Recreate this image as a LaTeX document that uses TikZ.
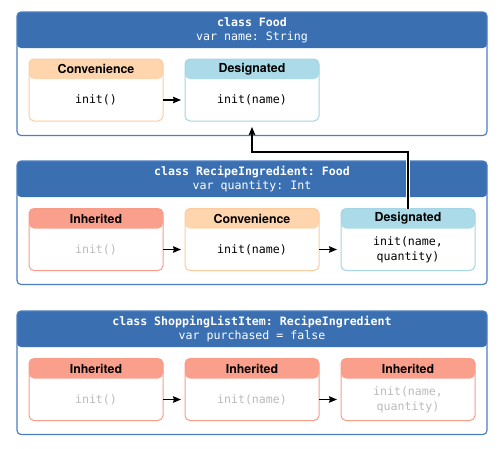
\documentclass[tikz,border=0pt]{standalone}
\usepackage{fontspec}
\setmainfont{TeX Gyre Heros}
\setmonofont{DejaVu Sans Mono}
\usetikzlibrary{arrows.meta}
\definecolor{classblue}{HTML}{3A6FB1}
\definecolor{frameblue}{HTML}{4C7EC2}
\definecolor{convfill}{HTML}{FED5AD}
\definecolor{convline}{HTML}{FCCB9E}
\definecolor{desfill}{HTML}{ABDBE8}
\definecolor{desline}{HTML}{A3D5E4}
\definecolor{inhfill}{HTML}{FA9F8C}
\definecolor{inhline}{HTML}{F89C88}
\colorlet{greytext}{black!27}

\begin{document}
\begin{tikzpicture}[x=1pt,y=-1pt]
\tikzset{
  classframe/.style={draw=frameblue, line width=1.2pt, rounded corners=4pt,
    inner sep=0, outer sep=0, minimum width=470pt, minimum height=123.5pt,
    path picture={\fill[classblue] (path picture bounding box.north west)
      rectangle ([yshift=-36pt]path picture bounding box.north east);}},
  classtitle/.style={text=white, align=center,
    font=\ttfamily\fontsize{11.6}{14}\selectfont},
  initbox/.style={draw=#1line, line width=1pt, rounded corners=5pt,
    inner sep=0, outer sep=0, minimum width=134pt, minimum height=62pt,
    path picture={\fill[#1fill] (path picture bounding box.north west)
      rectangle ([yshift=-20pt]path picture bounding box.north east);}},
  hdr/.style={anchor=center, yshift=-10pt, font=\bfseries\fontsize{12.4}{14}\selectfont},
  code/.style={anchor=center, yshift=-10pt, align=center,
    font=\ttfamily\fontsize{11.6}{15}\selectfont},
  callarrow/.style={line width=1.3pt, -{Stealth[length=8pt,width=6.5pt,inset=1pt]}}
}
\useasboundingbox (0,0) rectangle (504,448);

\node[classframe] (food) at (252,73.75) {};
\node[classtitle] (foodtitle) at ([yshift=-18pt]food.north) {{\bfseries class Food}\\var name: String};
\node[initbox=conv, label={[hdr]north:Convenience}, label={[code]center:init()}] (food1) at (96,90) {};
\node[initbox=des, label={[hdr]north:Designated}, label={[code]center:init(name)}] (food2) at (252,90) {};

\node[classframe] (recipe) at (252,222.75) {};
\node[classtitle] (recipetitle) at ([yshift=-18pt]recipe.north) {{\bfseries class RecipeIngredient: Food}\\var quantity: Int};
\node[initbox=inh, label={[hdr]north:Inherited}, label={[code,greytext]center:init()}] (recipe1) at (96,239.5) {};
\node[initbox=conv, label={[hdr]north:Convenience}, label={[code]center:init(name)}] (recipe2) at (252,239.5) {};
\node[initbox=des, label={[hdr]north:Designated}, label={[code]center:init(name,\\quantity)}] (recipe3) at (408,239.5) {};

\node[classframe] (shop) at (252,372.75) {};
\node[classtitle] (shoptitle) at ([yshift=-18pt]shop.north) {{\bfseries class ShoppingListItem: RecipeIngredient}\\var purchased = false};
\node[initbox=inh, label={[hdr]north:Inherited}, label={[code,greytext]center:init()}] (shop1) at (96,389.5) {};
\node[initbox=inh, label={[hdr]north:Inherited}, label={[code,greytext]center:init(name)}] (shop2) at (252,389.5) {};
\node[initbox=inh, label={[hdr]north:Inherited}, label={[code,greytext]center:init(name,\\quantity)}] (shop3) at (408,389.5) {};

\coordinate (up) at (408,152);
\draw[callarrow] ([yshift=-10pt]food1.east) -- ([yshift=-10pt,xshift=-4pt]food2.west);
\draw[callarrow] ([yshift=-10pt]recipe1.east) -- ([yshift=-10pt,xshift=-4pt]recipe2.west);
\draw[callarrow] ([yshift=-10pt]recipe2.east) -- ([yshift=-10pt,xshift=-4pt]recipe3.west);
\draw[callarrow] ([yshift=-10pt]shop1.east) -- ([yshift=-10pt,xshift=-4pt]shop2.west);
\draw[callarrow] ([yshift=-10pt]shop2.east) -- ([yshift=-10pt,xshift=-4pt]shop3.west);
\draw[white, line width=3.5pt] (recipe3.north) -- (up);
\draw[callarrow, line width=1.2pt] (recipe3.north) -- (up) -| ([yshift=-6pt]food2.south);
\end{tikzpicture}
\end{document}
